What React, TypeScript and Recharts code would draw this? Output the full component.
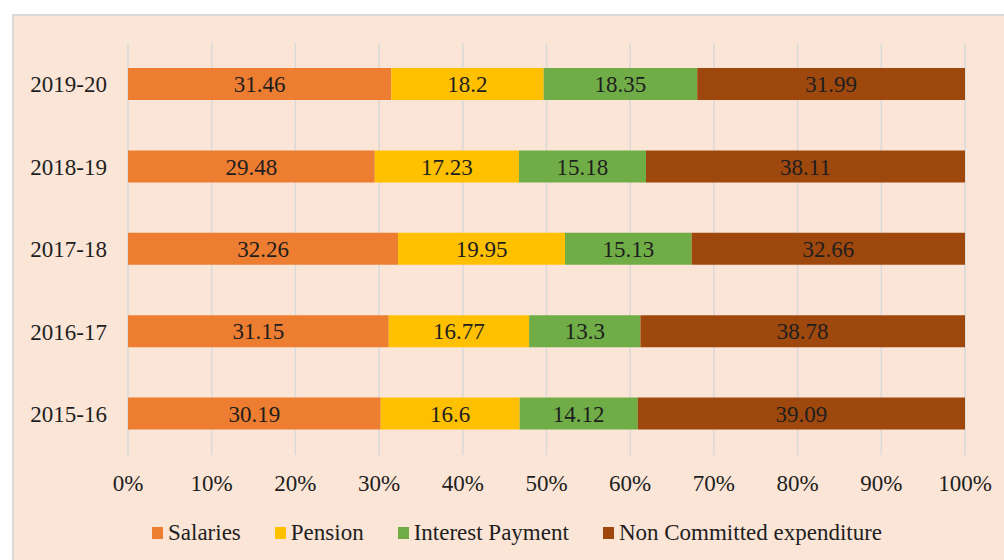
import { BarChart, Bar, XAxis, YAxis, CartesianGrid, LabelList } from "recharts";

const years = ["2019-20", "2018-19", "2017-18", "2016-17", "2015-16"];
const salaries = [31.46, 29.48, 32.26, 31.15, 30.19];
const pension = [18.2, 17.23, 19.95, 16.77, 16.6];
const interestPayment = [18.35, 15.18, 15.13, 13.3, 14.12];
const nonCommitted = [31.99, 38.11, 32.66, 38.78, 39.09];
const xTicks = [0, 10, 20, 30, 40, 50, 60, 70, 80, 90, 100];

const series = [
  { key: "salaries", name: "Salaries", color: "#ED7D31" },
  { key: "pension", name: "Pension", color: "#FFC000" },
  { key: "interest", name: "Interest Payment", color: "#70AD47" },
  { key: "nonCommitted", name: "Non Committed expenditure", color: "#9E480E" },
];

const data = years.map((year, i) => ({
  year,
  salaries: salaries[i],
  pension: pension[i],
  interest: interestPayment[i],
  nonCommitted: nonCommitted[i],
}));

const FONT = "'Liberation Serif', 'Times New Roman', serif";
const TEXT = "#1E1E1E";
const FS = 23;

export default function App() {
  return (
    <div
      style={{
        position: "absolute",
        left: 12,
        top: 14,
        width: 1010,
        height: 560,
        boxSizing: "border-box",
        border: "2px solid #D9D9D9",
        background: "#FBE5D6",
        fontFamily: FONT,
      }}
    >
      <div style={{ position: "absolute", left: 0, top: 0 }}>
        <BarChart
          width={990}
          height={544}
          data={data}
          layout="vertical"
          margin={{ top: 27, right: 39, left: 0, bottom: 65 }}
        >
          <CartesianGrid horizontal={false} stroke="#D9D9D9" strokeWidth={1.5} />
          <XAxis
            type="number"
            domain={[0, 100]}
            ticks={xTicks}
            tickFormatter={(v: number) => `${v}%`}
            axisLine={false}
            tickLine={false}
            tickSize={0}
            tickMargin={20}
            height={40}
            tick={{ fontSize: FS, fill: TEXT, fontFamily: FONT }}
            allowDataOverflow
          />
          <YAxis
            type="category"
            dataKey="year"
            width={114}
            axisLine={false}
            tickLine={false}
            tickSize={0}
            tickMargin={21}
            tick={{ fontSize: FS, fill: TEXT, fontFamily: FONT }}
          />
          {series.map((s) => (
            <Bar
              key={s.key}
              dataKey={s.key}
              name={s.name}
              stackId="a"
              fill={s.color}
              barSize={32}
              isAnimationActive={false}
            >
              <LabelList
                dataKey={s.key}
                position="center"
                fill={TEXT}
                fontSize={FS}
                fontFamily={FONT}
              />
            </Bar>
          ))}
        </BarChart>
      </div>
      <div
        style={{
          position: "absolute",
          left: 138,
          top: 503,
          height: 28,
          display: "flex",
          alignItems: "center",
          fontSize: FS,
          color: TEXT,
          whiteSpace: "nowrap",
        }}
      >
        {series.map((s) => (
          <div
            key={s.key}
            style={{ display: "flex", alignItems: "center", marginRight: 34 }}
          >
            <span
              style={{
                display: "inline-block",
                width: 11,
                height: 12,
                background: s.color,
                marginRight: 5,
              }}
            />
            <span>{s.name}</span>
          </div>
        ))}
      </div>
    </div>
  );
}
